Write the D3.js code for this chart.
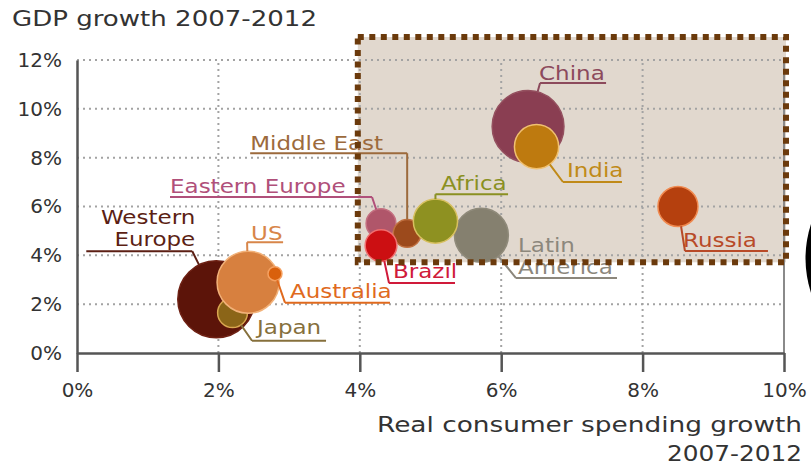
<!DOCTYPE html>
<html>
<head>
<meta charset="utf-8">
<script src="https://cdn.jsdelivr.net/npm/d3@7"></script>
<style>
  body { margin: 0; background: #fff; }
  svg text { font-family: "DejaVu Sans", sans-serif; }
</style>
</head>
<body>
<div id="chart"></div>
<script>
// data (drawing order: back to front)
var regions  = ["Western Europe", "Japan", "US", "Australia", "Eastern Europe", "Middle East",
                "Brazil", "Latin America", "Africa", "China", "India", "Russia"]
var spending = [1.97, 2.2, 2.42, 2.8, 4.3, 4.67, 4.3, 5.72, 5.07, 6.38, 6.5, 8.5]   // x, %
var gdp      = [2.2, 1.65, 2.9, 3.25, 5.3, 4.9, 4.4, 4.82, 5.4, 9.28, 8.45, 6.0]   // y, %
var size     = [100, 15, 65, 3.3, 15, 13, 17, 49, 33, 87, 33, 27]                  // bubble size
var xTicks = [0, 2, 4, 6, 8, 10]
var yTicks = [0, 2, 4, 6, 8, 10, 12]
var highlight = {x0: 4, x1: 10, y0: 4, y1: 12}   // shaded emerging-markets box

var width = 811, height = 467
var margin = {left: 77, right: 27, top: 60, bottom: 114}

// colours: fill, outline, label
var colors = {
  "Western Europe": ["#5c1409", "#6e2013", "#5c1f14"],
  "Japan":          ["#8b6518", "#d9a650", "#86703c"],
  "US":             ["#d7803f", "#f2b27a", "#d8864a"],
  "Australia":      ["#d9600c", "#f5a060", "#e06a1e"],
  "Eastern Europe": ["#b0566a", "#c47080", "#b0507a"],
  "Middle East":    ["#9c4a1c", "#c07040", "#9c6a3c"],
  "Brazil":         ["#cc0f12", "#f07070", "#d01a3a"],
  "Latin America":  ["#85806f", "#8f8a7a", "#8c877c"],
  "Africa":         ["#8e9121", "#d8c060", "#8a9022"],
  "China":          ["#8a3e52", "#94505f", "#8c4a5c"],
  "India":          ["#be7a0f", "#f0c070", "#c08a18"],
  "Russia":         ["#b5400e", "#f08a50", "#b84a28"]
}

// label layout, offsets from the bubble centre (px)
var labels = {
  "Western Europe": {lines: ["Western", "Europe"], anchor: "end", t: [-21, -75], elbow: [-24, -48], ux: [-130, -24]},
  "US":             {lines: ["US"], anchor: "start", t: [3, -42], elbow: [-1, -40], ux: [-1, 35]},
  "Australia":      {lines: ["Australia"], anchor: "start", t: [15, 24], elbow: [10, 29], ux: [10, 115]},
  "Japan":          {lines: ["Japan"], anchor: "start", t: [24.5, 21], elbow: [19.5, 28], ux: [19.5, 93.5]},
  "Eastern Europe": {lines: ["Eastern Europe"], anchor: "start", t: [-211, -30.6], elbow: [-9, -26.6], ux: [-211, -9]},
  "Middle East":    {lines: ["Middle East"], anchor: "start", t: [-157, -83], elbow: [0, -80], ux: [-157, 0]},
  "Africa":         {lines: ["Africa"], anchor: "start", t: [5.6, -31], elbow: [0, -27], ux: [0, 72.6]},
  "Latin America":  {lines: ["Latin", "America"], anchor: "start", t: [36.6, 16.7], elbow: [34.6, 42.7], ux: [34.6, 135.6]},
  "China":          {lines: ["China"], anchor: "start", t: [11, -46.4], elbow: [12, -43.4], ux: [12, 78]},
  "India":          {lines: ["India"], anchor: "start", t: [30.4, 30.3], elbow: [26.4, 35.3], ux: [26.4, 85.4]},
  "Russia":         {lines: ["Russia"], anchor: "start", t: [5, 40.5], elbow: [7, 44.5], ux: [7, 90]},
  "Brazil":         {lines: ["Brazil"], anchor: "start", t: [12, 32.4], elbow: [8, 37.4], ux: [8, 74]}
}

var data = regions.map(function(r, i) { return {name: r, x: spending[i], y: gdp[i], s: size[i]} })

var svg = d3.select("#chart").append("svg")
  .attr("width", width).attr("height", height)

var x = d3.scaleLinear().domain([0, 10]).range([margin.left, width - margin.right])
var y = d3.scaleLinear().domain([0, 12]).range([height - margin.bottom, margin.top])
var r = d3.scaleSqrt().domain([0, 100]).range([0, 38.5])

// shaded box
var box = svg.append("g")
box.append("rect")
  .attr("x", x(highlight.x0) - 2).attr("y", y(highlight.y1) - 23)
  .attr("width", x(highlight.x1) - x(highlight.x0) + 4)
  .attr("height", y(highlight.y0) - y(highlight.y1) + 30)
  .attr("fill", "#e1d8ce")

// grid
var grid = svg.append("g")
  .attr("stroke", "#a3a3a3").attr("stroke-width", 2).attr("stroke-dasharray", "2,4")
grid.selectAll(".h").data(yTicks.slice(1)).enter().append("line")
  .attr("x1", x(0)).attr("x2", x(10)).attr("y1", d => y(d)).attr("y2", d => y(d))
grid.selectAll(".v").data(xTicks.slice(1, -1)).enter().append("line")
  .attr("y1", y(0)).attr("y2", y(12)).attr("x1", d => x(d)).attr("x2", d => x(d))

svg.append("line")
  .attr("x1", x(10)).attr("x2", x(10)).attr("y1", y(12)).attr("y2", y(0))
  .attr("stroke", "#8a8a8a").attr("stroke-width", 2)

// axes
var xAxis = svg.append("g")
  .attr("transform", "translate(0," + y(0) + ")")
  .call(d3.axisBottom(x).tickValues(xTicks).tickSize(19).tickSizeOuter(0).tickPadding(11)
    .tickFormat(d => d + "%"))
var yAxis = svg.append("g")
  .attr("transform", "translate(" + x(0) + ",0)")
  .call(d3.axisLeft(y).tickValues(yTicks).tickSize(0).tickPadding(15)
    .tickFormat(d => d + "%"))
svg.selectAll(".domain").attr("stroke", "#555").attr("stroke-width", 2.5)
svg.selectAll(".tick line").attr("stroke", "#555").attr("stroke-width", 2.5)
svg.selectAll(".tick text").attr("fill", "#333").style("font-size", "20px")
  .style("font-family", "'DejaVu Sans', sans-serif")

// bubbles
svg.append("g").selectAll("circle").data(data).enter().append("circle")
  .attr("cx", d => x(d.x)).attr("cy", d => y(d.y)).attr("r", d => r(d.s))
  .attr("fill", d => colors[d.name][0])
  .attr("stroke", d => colors[d.name][1]).attr("stroke-width", 1.5)

// leaders + labels
var ann = svg.append("g")
data.forEach(function(d) {
  var L = labels[d.name], cx = x(d.x), cy = y(d.y), rad = r(d.s)
  var a = Math.atan2(L.elbow[1], L.elbow[0])
  var col = colors[d.name][2]
  ann.append("path")
    .attr("d", "M" + (cx + rad * Math.cos(a)) + "," + (cy + rad * Math.sin(a)) +
      "L" + (cx + L.elbow[0]) + "," + (cy + L.elbow[1]) +
      "M" + (cx + L.ux[0]) + "," + (cy + L.elbow[1]) +
      "L" + (cx + L.ux[1]) + "," + (cy + L.elbow[1]))
    .attr("fill", "none").attr("stroke", col).attr("stroke-width", 2)
  var t = ann.append("text")
    .attr("transform", "translate(" + (cx + L.t[0]) + "," + (cy + L.t[1]) + ") scale(1.15,1)")
    .attr("text-anchor", L.anchor).attr("fill", col).style("font-size", "20px")
  L.lines.forEach(function(line, i) {
    t.append("tspan").attr("x", 0).attr("y", i * 22).text(line)
  })
})

// dotted brown frame on top
svg.append("rect")
  .attr("x", x(highlight.x0) - 2).attr("y", y(highlight.y1) - 23)
  .attr("width", x(highlight.x1) - x(highlight.x0) + 4)
  .attr("height", y(highlight.y0) - y(highlight.y1) + 30)
  .attr("fill", "none").attr("stroke", "#6b3a0c").attr("stroke-width", 6)
  .attr("stroke-dasharray", "6,5.5")

// titles
svg.append("text")
  .attr("x", 12).attr("y", 26).attr("fill", "#333").style("font-size", "21px")
  .attr("textLength", 305).attr("lengthAdjust", "spacingAndGlyphs")
  .text("GDP growth 2007-2012")
svg.append("text")
  .attr("x", 802).attr("y", 432).attr("text-anchor", "end").attr("fill", "#333")
  .style("font-size", "22px").attr("textLength", 425).attr("lengthAdjust", "spacingAndGlyphs")
  .text("Real consumer spending growth")
svg.append("text")
  .attr("x", 802).attr("y", 461).attr("text-anchor", "end").attr("fill", "#333")
  .style("font-size", "21px").attr("textLength", 135).attr("lengthAdjust", "spacingAndGlyphs")
  .text("2007-2012")

// black shape cut by the right edge
svg.append("path")
  .attr("d", "M811,224 Q800,258 811,293 Z")
  .attr("fill", "#000")
</script>
</body>
</html>
